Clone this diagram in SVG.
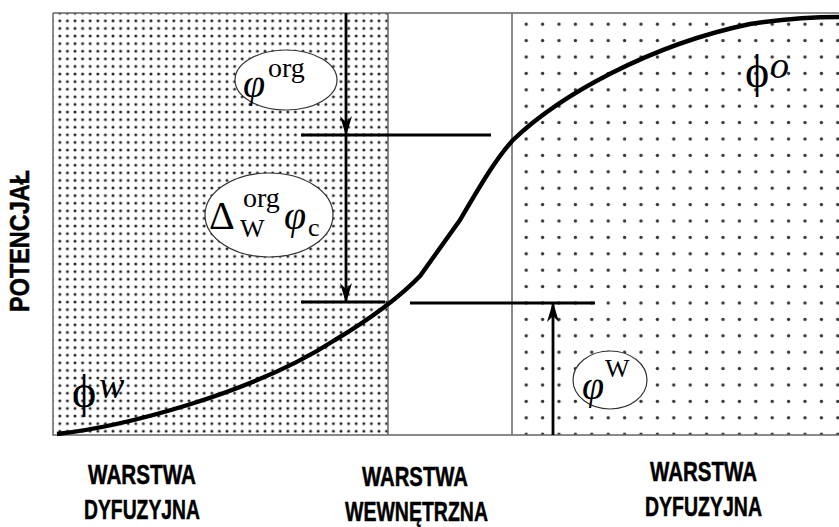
<svg xmlns="http://www.w3.org/2000/svg" width="839" height="527" viewBox="0 0 839 527">
<defs>
<pattern id="dense" x="56" y="17" width="7.6" height="7.6" patternUnits="userSpaceOnUse">
<circle cx="3.8" cy="3.8" r="1.5" fill="#222"/>
</pattern>
<pattern id="sparse" x="518" y="16" width="16.4" height="16.4" patternUnits="userSpaceOnUse">
<circle cx="8.2" cy="8.2" r="1.7" fill="#333"/>
</pattern>
<marker id="ah" viewBox="0 0 20 12" refX="20" refY="6" markerWidth="20" markerHeight="12" markerUnits="userSpaceOnUse" orient="auto">
<path d="M0,0 L20,6 L0,12 L6,6 Z" fill="#000"/>
</marker>
<style>
.frame{stroke:#666;stroke-width:1.5;fill:none}
.ln{stroke:#000;stroke-width:2.8;fill:none}
.ell{fill:#fff;stroke:#333;stroke-width:1.2}
.m{font-family:"Liberation Serif","DejaVu Serif",serif;fill:#000}
.lbl{font-family:"Liberation Sans",Arial,sans-serif;font-weight:bold;font-size:28px;fill:#000;stroke:#000;stroke-width:0.5}
</style>
</defs>
<g id="regions">
<rect x="53" y="13" width="335" height="422" fill="url(#dense)"/>
<rect x="512" y="13" width="327" height="422" fill="url(#sparse)"/>
<path class="frame" d="M53,13 H839 M53,13 V435 H839 M388,13 V435 M512,13 V435"/>
</g>
<g id="connectors">
<line class="ln" x1="346" y1="13" x2="346" y2="136" marker-end="url(#ah)"/>
<line class="ln" x1="346" y1="135" x2="346" y2="303" marker-end="url(#ah)"/>
<line class="ln" x1="553" y1="435" x2="553" y2="302" marker-end="url(#ah)"/>
<line class="ln" x1="301" y1="135" x2="491" y2="135"/>
<line class="ln" x1="301" y1="302" x2="385" y2="302"/>
<line class="ln" x1="410" y1="303" x2="595" y2="303"/>
</g>
<g id="curve">
<path d="M57,434 C120,427 250,395 335,340 C365,322 395,302 420,276 L460,220 C480,186 495,160 513,140 C560,95 650,45 750,24 C790,18 820,17 839,17" fill="none" stroke="#000" stroke-width="4.4"/>
</g>
<g id="phi-org">
<ellipse class="ell" cx="286" cy="80" rx="51" ry="30"/>
<text class="m" x="243" y="97" font-size="40" font-style="italic">φ</text>
<text class="m" x="268" y="77" font-size="28">org</text>
</g>
<g id="delta">
<ellipse class="ell" cx="269" cy="215" rx="64" ry="42"/>
<text class="m" x="209" y="229" font-size="40">Δ</text>
<text class="m" x="243" y="207" font-size="28">org</text>
<text class="m" x="240" y="237" font-size="26">W</text>
<text class="m" x="284" y="229" font-size="40" font-style="italic">φ</text>
<text class="m" x="308" y="236" font-size="26">c</text>
</g>
<g id="phi-w">
<ellipse class="ell" cx="610" cy="380" rx="37" ry="29"/>
<text class="m" x="582" y="399" font-size="40" font-style="italic">φ</text>
<text class="m" x="605" y="377" font-size="26">W</text>
</g>
<g id="phiW-label">
<text class="m" x="72" y="407" font-size="46">ϕ</text>
<text class="m" x="99" y="398" font-size="38" font-style="italic">w</text>
</g>
<g id="phiO-label">
<text class="m" x="745" y="87" font-size="46">ϕ</text>
<text class="m" x="770" y="78" font-size="38" font-style="italic">o</text>
</g>
<g id="axis">
<text class="lbl" transform="translate(29,241) rotate(-90)" text-anchor="middle" textLength="142" lengthAdjust="spacingAndGlyphs" font-size="25">POTENCJAŁ</text>
</g>
<g id="labels">
<text class="lbl" x="88" y="484" textLength="108" lengthAdjust="spacingAndGlyphs">WARSTWA</text>
<text class="lbl" x="84" y="519" textLength="116" lengthAdjust="spacingAndGlyphs">DYFUZYJNA</text>
<text class="lbl" x="362" y="486" textLength="106" lengthAdjust="spacingAndGlyphs">WARSTWA</text>
<text class="lbl" x="345" y="521" textLength="143" lengthAdjust="spacingAndGlyphs">WEWNĘTRZNA</text>
<text class="lbl" x="650" y="481" textLength="107" lengthAdjust="spacingAndGlyphs">WARSTWA</text>
<text class="lbl" x="645" y="516" textLength="117" lengthAdjust="spacingAndGlyphs">DYFUZYJNA</text>
</g>
</svg>
